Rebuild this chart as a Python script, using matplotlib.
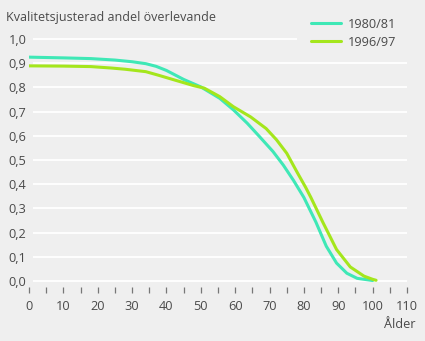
import matplotlib
matplotlib.use("Agg")
import matplotlib.pyplot as plt

# Kvalitetsjusterad andel överlevande per ålder
ages_8081 = [0, 10, 18, 25, 30, 34, 37, 40, 45, 50, 55.5, 59.5, 63.5, 67, 71, 74, 77,
             80, 83.5, 86.5, 89.5, 92.5, 95.5, 100]
surv_8081 = [0.925, 0.922, 0.919, 0.913, 0.906, 0.898, 0.887, 0.870, 0.833, 0.802,
             0.755, 0.707, 0.652, 0.598, 0.535, 0.479, 0.415, 0.345, 0.243, 0.144,
             0.074, 0.032, 0.011, 0.002]

ages_9697 = [0, 10, 18, 24, 28, 34, 37.5, 42.5, 48, 51, 55.5, 59.5, 64.5, 69, 72, 75,
             78, 80.5, 82, 85.5, 89.5, 93.5, 97.5, 100, 101]
surv_9697 = [0.889, 0.888, 0.886, 0.880, 0.875, 0.865, 0.851, 0.830, 0.807, 0.797,
             0.762, 0.720, 0.678, 0.630, 0.584, 0.528, 0.450, 0.387, 0.346, 0.243,
             0.130, 0.058, 0.020, 0.007, 0.003]

series = [("1980/81", ages_8081, surv_8081, "#3fe8b6"),
          ("1996/97", ages_9697, surv_9697, "#a4e61c")]

y_ticks = [0.0, 0.1, 0.2, 0.3, 0.4, 0.5, 0.6, 0.7, 0.8, 0.9, 1.0]
x_labels = list(range(0, 111, 10))
x_minor = list(range(5, 111, 10))

plt.rcParams['font.family'] = ['Open Sans', 'DejaVu Sans']
bg = "#efefef"
txt = "#4a4a4a"
fs = 9.2

fig = plt.figure(figsize=(4.25, 3.41), dpi=100, facecolor=bg)
W, H = 425, 341
# axes: x 0..110 -> px 29..407, y -0.025..1.02 -> px 287..34
left, right = 29, 407
y0_px, y1_px = 281, 39
ppu = (y0_px - y1_px)
ylo, yhi = -0.025, 1.02
bottom_px = y0_px - ylo * ppu
top_px = y0_px - yhi * ppu
ax = fig.add_axes([left / W, 1 - bottom_px / H, (right - left) / W, (bottom_px - top_px) / H])
ax.set_facecolor(bg)
ax.set_xlim(0, 110)
ax.set_ylim(ylo, yhi)
for s in ax.spines.values():
    s.set_visible(False)

# white gridlines, the top one stops short of the legend
for v in y_ticks:
    ax.hlines(v, 1.2, 78 if v == 1.0 else 110, color="white", lw=1.3, zorder=1)

for label, xs, ys, col in series:
    ax.plot(xs, ys, color=col, lw=2.2, label=label, zorder=3,
            solid_joinstyle="round", solid_capstyle="round")

ax.set_yticks(y_ticks)
ax.set_yticklabels([f"{v:.1f}".replace(".", ",") for v in y_ticks])
ax.tick_params(axis="y", length=0, pad=2, labelsize=fs, labelcolor=txt)

ax.set_xticks(x_labels)
ax.set_xticklabels([str(v) for v in x_labels])
ax.set_xticks(x_minor, minor=True)
ax.tick_params(axis="x", which="both", direction="out", length=4.3, width=0.9,
               color="#777777", pad=5, labelsize=fs, labelcolor=txt)

fig.text(6 / W, 1 - 18 / H, "Kvalitetsjusterad andel överlevande", fontsize=9.0,
         color=txt, ha="left", va="center")
fig.text(416 / W, 1 - 325 / H, "Ålder", fontsize=fs, color=txt, ha="right", va="center")

leg = fig.legend(loc="upper left", bbox_to_anchor=(299 / W, 1 - 6 / H), frameon=False,
                 fontsize=fs, handlelength=2.4, handletextpad=0.55, labelspacing=0.4,
                 labelcolor=txt)

fig.savefig("out.png", dpi=100, facecolor=bg)
